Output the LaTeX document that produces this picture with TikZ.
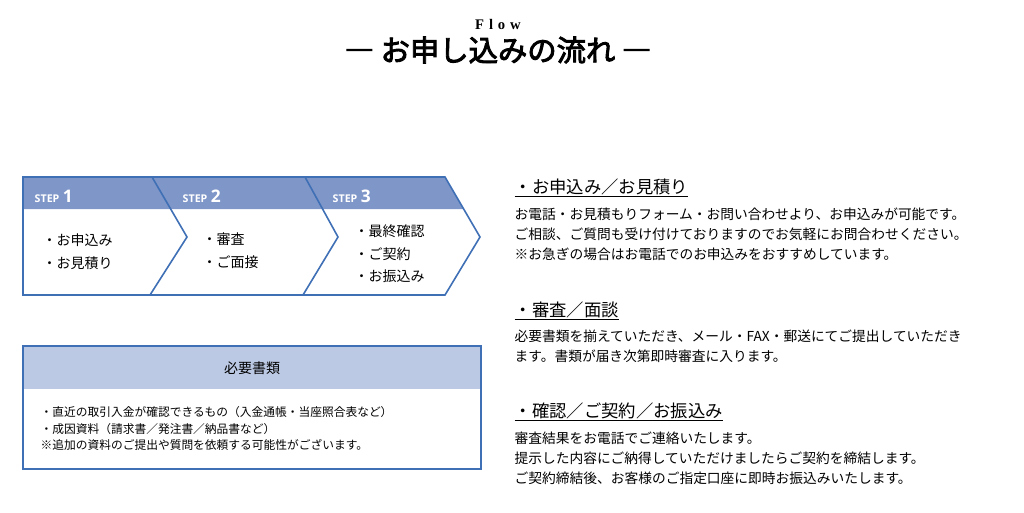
\documentclass[tikz,border=0pt]{standalone}
\usepackage{fontspec}
\setmainfont{Liberation Serif}
\newfontfamily\cjk{Noto Sans CJK JP}
\newfontfamily\cjkb[FakeBold=3]{Noto Sans CJK JP}
\newfontfamily\stepf{Open Sans}
\definecolor{bord}{HTML}{3F6FB5}
\definecolor{head}{HTML}{7F96C8}
\definecolor{boxh}{HTML}{BCC9E4}
\tikzset{
  stepbox/.style={draw=bord,line width=1.2pt},
  stephead/.style={fill=head},
  steplbl/.style={anchor=west,text=white,font=\stepf\bfseries},
  steptxt/.style={anchor=west,align=left,font=\cjk\fontsize{10.5}{17}\selectfont},
  hd/.style={anchor=west,font=\cjk\fontsize{13}{15}\selectfont},
  body/.style={anchor=north west,align=left,font=\cjk\fontsize{10.3}{15}\selectfont},
}
\begin{document}
\begin{tikzpicture}[x=0.75pt,y=-0.75pt]
\useasboundingbox (0,0) rectangle (1024,512);
% title
\node (flow) at (498,24) {\bfseries\fontsize{11}{12}\selectfont F\,\,l\,\,o\,\,w};
\node (title) at (498,50) {\cjkb\fontsize{22}{24}\selectfont ―\ お申し込みの流れ\ ―};
% chevrons
\fill[stephead] (23,177) -- (445,177) -- (464,209) -- (23,209) -- cycle;
\draw[stepbox] (23,177) -- (445,177) -- (480,237) -- (445,295) -- (23,295) -- cycle;
\draw[stepbox] (152,177) -- (187,237) -- (150,295);
\draw[stepbox] (305,177) -- (338,237) -- (303,295);
\node[steplbl] (s1) at (30,196) {{\fontsize{8}{9}\selectfont STEP} {\fontsize{13}{14}\selectfont 1}};
\node[steplbl] (s2) at (178,196) {{\fontsize{8}{9}\selectfont STEP} {\fontsize{13}{14}\selectfont 2}};
\node[steplbl] (s3) at (328,196) {{\fontsize{8}{9}\selectfont STEP} {\fontsize{13}{14}\selectfont 3}};
\node[steptxt] (t1) at (38,252) {・お申込み\\・お見積り};
\node[steptxt] (t2) at (198,251) {・審査\\・ご面接};
\node[steptxt] (t3) at (350,254) {・最終確認\\・ご契約\\・お振込み};
% documents box
\fill[boxh] (23,346) rectangle (481,389);
\draw[draw=bord,line width=1.2pt] (23,346) rectangle (481,469);
\node[font=\cjk\fontsize{10.5}{12}\selectfont] (bh) at (252,368) {必要書類};
\node[anchor=north west,align=left,font=\cjk\fontsize{8.8}{12.2}\selectfont] (bt) at (36,402)
{・直近の取引入金が確認できるもの（入金通帳・当座照合表など）\\・成因資料（請求書／発注書／納品書など）\\※追加の資料のご提出や質問を依頼する可能性がございます。};
% right texts
\node[hd] (h1) at (510,188) {\underline{・お申込み／お見積り}};
\node[body] (b1) at (510,203) {お電話・お見積もりフォーム・お問い合わせより、お申込みが可能です。\\ご相談、ご質問も受け付けておりますのでお気軽にお問合わせください。\\※お急ぎの場合はお電話でのお申込みをおすすめしています。};
\node[hd] (h2) at (510,311) {\underline{・審査／面談}};
\node[body] (b2) at (510,325) {必要書類を揃えていただき、メール・FAX・郵送にてご提出していただき\\ます。書類が届き次第即時審査に入ります。};
\node[hd] (h3) at (510,412) {\underline{・確認／ご契約／お振込み}};
\node[body] (b3) at (510,427) {審査結果をお電話でご連絡いたします。\\提示した内容にご納得していただけましたらご契約を締結します。\\ご契約締結後、お客様のご指定口座に即時お振込みいたします。};
\end{tikzpicture}
\end{document}
